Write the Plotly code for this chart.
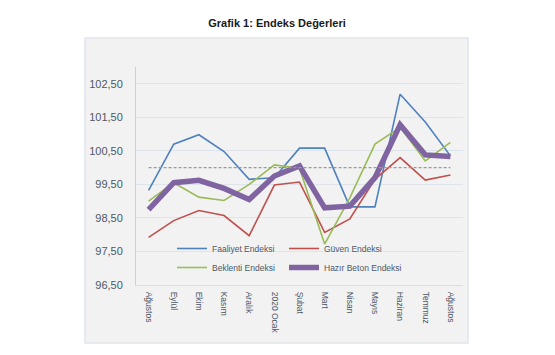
import plotly.graph_objects as go

months = ["Ağustos", "Eylül", "Ekim", "Kasım", "Aralık", "2020 Ocak", "Şubat",
          "Mart", "Nisan", "Mayıs", "Haziran", "Temmuz", "Ağustos"]

faaliyet = [99.32, 100.70, 100.98, 100.48, 99.65, 99.70, 100.58, 100.58, 98.83, 98.83, 102.19, 101.36, 100.35]
guven = [97.92, 98.42, 98.72, 98.57, 97.97, 99.48, 99.57, 98.07, 98.47, 99.65, 100.30, 99.63, 99.78]
beklenti = [99.00, 99.55, 99.12, 99.02, 99.50, 100.08, 99.98, 97.72, 99.10, 100.70, 101.20, 100.20, 100.75]
hazir_beton = [98.75, 99.55, 99.62, 99.38, 99.05, 99.75, 100.05, 98.80, 98.85, 99.70, 101.28, 100.38, 100.33]

reference_level = 100.0
y_tick_values = [96.5, 97.5, 98.5, 99.5, 100.5, 101.5, 102.5]
y_tick_labels = ["96,50", "97,50", "98,50", "99,50", "100,50", "101,50", "102,50"]

x = list(range(len(months)))

font_family = "Liberation Sans, Arial, sans-serif"
tick_color = "#4d5866"

# page offset (browser body margin)
OFF = 8
PL, PR, PT, PB = 136, 463, 67, 285  # plot area in page pixels
PW, PH = PR - PL, PB - PT

fig = go.Figure()
series = [
    ("Faaliyet Endeksi", faaliyet, "#4f81bd", 1.6, "legend"),
    ("Güven Endeksi", guven, "#c0504d", 1.6, "legend2"),
    ("Beklenti Endeksi", beklenti, "#9bbb59", 1.6, "legend"),
    ("Hazır Beton Endeksi", hazir_beton, "#8064a2", 5.5, "legend2"),
]
for name, vals, color, w, lg in series:
    fig.add_trace(go.Scatter(x=x, y=vals, mode="lines", name=name,
                             line=dict(color=color, width=w), legend=lg))

# chart box background
fig.add_shape(type="rect", xref="paper", yref="paper",
              x0=(85 - PL) / PW, x1=(468 - PL) / PW,
              y0=(PB - 343) / PH, y1=(PB - 38) / PH,
              fillcolor="#f2f2f2", line=dict(color="#dfe5ee", width=1.5), layer="below")

# dashed reference line at 100
fig.add_shape(type="line", xref="x", yref="y", x0=x[0], x1=x[-1],
              y0=reference_level, y1=reference_level,
              line=dict(color="#9a9a9a", width=1.2, dash="3px,2px"), layer="above")

W, H = 555, 355
fig.update_layout(
    width=W, height=H,
    margin=dict(l=PL - OFF, r=W - (PR - OFF), t=PT - OFF, b=H - (PB - OFF)),
    paper_bgcolor="white",
    plot_bgcolor="rgba(0,0,0,0)",
    title=dict(text="<b>Grafik 1: Endeks Değerleri</b>", x=(277 - OFF) / W, xref="container",
               xanchor="center", y=1 - (23 - OFF) / H, yref="container", yanchor="middle",
               font=dict(family=font_family, size=11, color="#1a1a1a")),
    legend=dict(x=(172 - PL) / PW, y=(PB - 234) / PH, xanchor="left", yanchor="top",
                bgcolor="rgba(0,0,0,0)", font=dict(family=font_family, size=8.5, color=tick_color),
                tracegroupgap=0, itemwidth=30),
    legend2=dict(x=(284 - PL) / PW, y=(PB - 234) / PH, xanchor="left", yanchor="top",
                 bgcolor="rgba(0,0,0,0)", font=dict(family=font_family, size=8.5, color=tick_color),
                 tracegroupgap=0, itemwidth=30),
    xaxis=dict(range=[-0.5, len(months) - 0.5], tickvals=x, ticktext=months, tickangle=90,
               showgrid=False, zeroline=False, showline=True, linecolor="#d6dde8", linewidth=1,
               ticks="", ticklabelstandoff=4,
               tickfont=dict(family=font_family, size=8.5, color=tick_color)),
    yaxis=dict(range=[96.5, 103.0], tickvals=y_tick_values, ticktext=y_tick_labels,
               showgrid=True, gridcolor="#dde4ec", gridwidth=1, zeroline=False,
               showline=True, linecolor="#c3d1e0", linewidth=1, ticks="",
               ticklabelstandoff=10,
               tickfont=dict(family=font_family, size=11, color=tick_color)),
)

fig.write_html("out.html")
